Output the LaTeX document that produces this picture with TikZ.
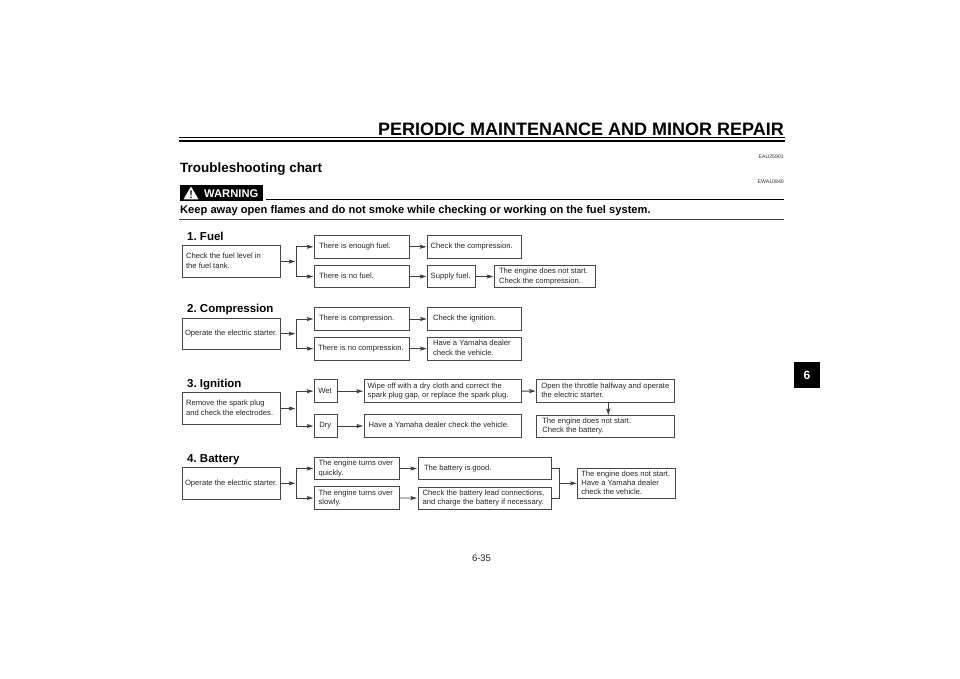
\documentclass[tikz,border=0pt]{standalone}
\usepackage{fontspec}
\setmainfont{Liberation Sans}
\usetikzlibrary{arrows.meta}
\frenchspacing
\tikzset{
  x=1pt,y=-1pt,
  pbox/.style={draw=black!72,line width=1pt,inner sep=0pt,outer sep=0pt,anchor=north west,font=\fontsize{7.65}{9.3}\selectfont,text=black!85},
  conn/.style={draw=black!75,line width=0.85pt,-{Stealth[length=6.5pt,width=4pt,inset=1pt]},shorten >=1pt},
  link/.style={draw=black!75,line width=0.85pt},
  head/.style={font=\bfseries\fontsize{11.5}{14}\selectfont,anchor=base west,inner sep=0pt}
}
\newcommand{\pb}[7]{% name x1 y1 x2 y2 textx text
  \pgfmathsetmacro{\bw}{#4-#2}\pgfmathsetmacro{\bh}{#5-#3}\pgfmathsetmacro{\bp}{#6-#2}%
  \node[pbox,minimum height=\bh pt] (#1) at (#2,#3) {\makebox[\bw pt][l]{\hspace*{\bp pt}\begin{tabular}{@{}l@{}}#7\end{tabular}}};}
\begin{document}
\begin{tikzpicture}
\useasboundingbox (0,0) rectangle (960,678);
\fill[white] (0,0) rectangle (960,678);
% header
\node[anchor=base east,inner sep=0pt,font=\bfseries\fontsize{18}{20}\selectfont] (title) at (784,135) {PERIODIC MAINTENANCE AND MINOR REPAIR};
\coordinate (ra) at (179,137.8); \coordinate (rb) at (785,137.8);
\coordinate (rc) at (179,141.2); \coordinate (rd) at (785,141.2);
\draw[line width=0.8pt] (ra) -- (rb);
\draw[line width=1.5pt] (rc) -- (rd);
\node[anchor=base east,inner sep=0pt,font=\fontsize{5.2}{6}\selectfont,text=black!80] (eau) at (784,158) {EAU25901};
\node[anchor=base west,inner sep=0pt,font=\bfseries\fontsize{13.45}{16}\selectfont] (tc) at (180,172.7) {Troubleshooting chart};
\node[anchor=base east,inner sep=0pt,font=\fontsize{5.2}{6}\selectfont,text=black!80] (ewa) at (784,183) {EWA10840};
\fill[black] (179.5,185) rectangle (262.5,200.7);
\fill[white] (191,186.5) -- (183.5,199.3) -- (198.5,199.3) -- cycle;
\fill[black] (190.2,190.5) -- (191.8,190.5) -- (191.4,195.5) -- (190.6,195.5) -- cycle;
\fill[black] (191,197.2) circle (0.9);
\node[anchor=base west,inner sep=0pt,font=\bfseries\fontsize{11.2}{12}\selectfont,text=white] (wn) at (204,197.5) {WARNING};
\coordinate (wa) at (266,199.8); \coordinate (wb) at (784,199.8);
\draw[line width=0.9pt] (wa) -- (wb);
\node[anchor=base west,inner sep=0pt,font=\bfseries\fontsize{11.14}{13}\selectfont] (keep) at (180,213.7) {Keep away open flames and do not smoke while checking or working on the fuel system.};
\coordinate (wc) at (179,219.7); \coordinate (wd) at (784,219.7);
\draw[line width=1.4pt,black!75] (wc) -- (wd);
% tab
\node[anchor=north west,inner sep=0pt,minimum width=26.7pt,minimum height=26pt,fill=black,text=white,font=\bfseries\fontsize{12}{14}\selectfont] (tab) at (793.3,361.7) {6};
% page number
\node[anchor=base,inner sep=0pt,font=\fontsize{9.5}{11}\selectfont,text=black!85] (pg) at (481.5,561) {6-35};
% headings
\node[head] (h1) at (187,240) {1. Fuel};
\node[head] (h2) at (187,312) {2. Compression};
\node[head] (h3) at (187,387) {3. Ignition};
\node[head] (h4) at (187,462) {4. Battery};
% section 1
\pb{a0}{182.5}{245.7}{280.7}{277.3}{186}{Check the fuel level in\\the fuel tank.}
\pb{a1}{314.3}{235.3}{409.3}{258.3}{319}{There is enough fuel.}
\pb{a2}{314.3}{265.3}{409.3}{287.7}{319}{There is no fuel.}
\pb{a3}{427.3}{235.3}{521.7}{258.3}{430.7}{Check the compression.}
\pb{a4}{427.3}{265.3}{475.7}{287.7}{430.7}{Supply fuel.}
\pb{a5}{494.3}{265.3}{595.7}{287.7}{499}{The engine does not start.\\Check the compression.}
% section 2
\pb{b0}{182.5}{318}{280.7}{349.7}{185}{Operate the electric starter.}
\pb{b1}{314.3}{307.7}{409.3}{330.3}{319}{There is compression.}
\pb{b2}{314.3}{337.3}{409.3}{360}{318}{There is no compression.}
\pb{b3}{427.7}{307.7}{521.7}{330.3}{433}{Check the ignition.}
\pb{b4}{427.7}{337.3}{521.7}{360}{433}{Have a Yamaha dealer\\check the vehicle.}
% section 3
\pb{c0}{182.5}{392.7}{280.7}{424.3}{186}{Remove the spark plug\\and check the electrodes.}
\pb{c1}{314.3}{379.7}{337.7}{402.7}{318.3}{Wet}
\pb{c2}{314.3}{414.7}{337.7}{437.3}{319.3}{Dry}
\pb{c3}{364}{379.7}{521.7}{402.7}{367.7}{Wipe off with a dry cloth and correct the\\spark plug gap, or replace the spark plug.}
\pb{c4}{364}{414.7}{521.7}{437.3}{368.7}{Have a Yamaha dealer check the vehicle.}
\pb{c5}{536.7}{379.7}{674.7}{402.3}{541.3}{Open the throttle halfway and operate\\the electric starter.}
\pb{c6}{536.7}{415}{674.7}{437.7}{542.3}{The engine does not start.\\Check the battery.}
% section 4
\pb{d0}{182.5}{467.3}{280.7}{499.3}{185}{Operate the electric starter.}
\pb{d1}{314.3}{457.3}{399.3}{479.7}{318.5}{The engine turns over\\quickly.}
\pb{d2}{314.3}{486.7}{399.3}{509.3}{318.5}{The engine turns over\\slowly.}
\pb{d3}{418}{457.3}{551.7}{479.7}{424}{The battery is good.}
\pb{d4}{418}{487}{551.7}{509.3}{422.7}{Check the battery lead connections,\\and charge the battery if necessary.}
\pb{d5}{577.7}{468.3}{675.7}{498.7}{581.3}{The engine does not start.\\Have a Yamaha dealer\\check the vehicle.}
% connectors
\coordinate (ja) at (296.3,261.5);
\draw[conn] (a0.east |- ja) -- (ja);
\draw[conn] (ja) |- (a1.west);
\draw[conn] (ja) |- (a2.west);
\draw[conn] (a1) -- (a3);
\draw[conn] (a2) -- (a4);
\draw[conn] (a4) -- (a5);
\coordinate (jb) at (296.3,333.7);
\draw[conn] (b0.east |- jb) -- (jb);
\draw[conn] (jb) |- (b1.west);
\draw[conn] (jb) |- (b2.west);
\draw[conn] (b1) -- (b3);
\draw[conn] (b2) -- (b4);
\coordinate (jc) at (296.3,408.5);
\draw[conn] (c0.east |- jc) -- (jc);
\draw[conn] (jc) |- (c1.west);
\draw[conn] (jc) |- (c2.west);
\draw[conn] (c1) -- (c3);
\draw[conn] (c2) -- (c4);
\draw[conn] (c3) -- (c5);
\coordinate (cx) at (608.3,402.3); \coordinate (cy) at (608.3,415);
\draw[conn,shorten >=0pt] (cx) -- (cy);
\coordinate (jd) at (296.3,483.3);
\draw[conn] (d0.east |- jd) -- (jd);
\draw[conn] (jd) |- (d1.west);
\draw[conn] (jd) |- (d2.west);
\draw[conn] (d1) -- (d3);
\draw[conn] (d2) -- (d4);
\coordinate (je) at (559.3,483.3);
\draw[link] (d3.east) -| (je);
\draw[link] (d4.east) -| (je);
\draw[conn] (je) -- (d5.west |- je);
\end{tikzpicture}
\end{document}
